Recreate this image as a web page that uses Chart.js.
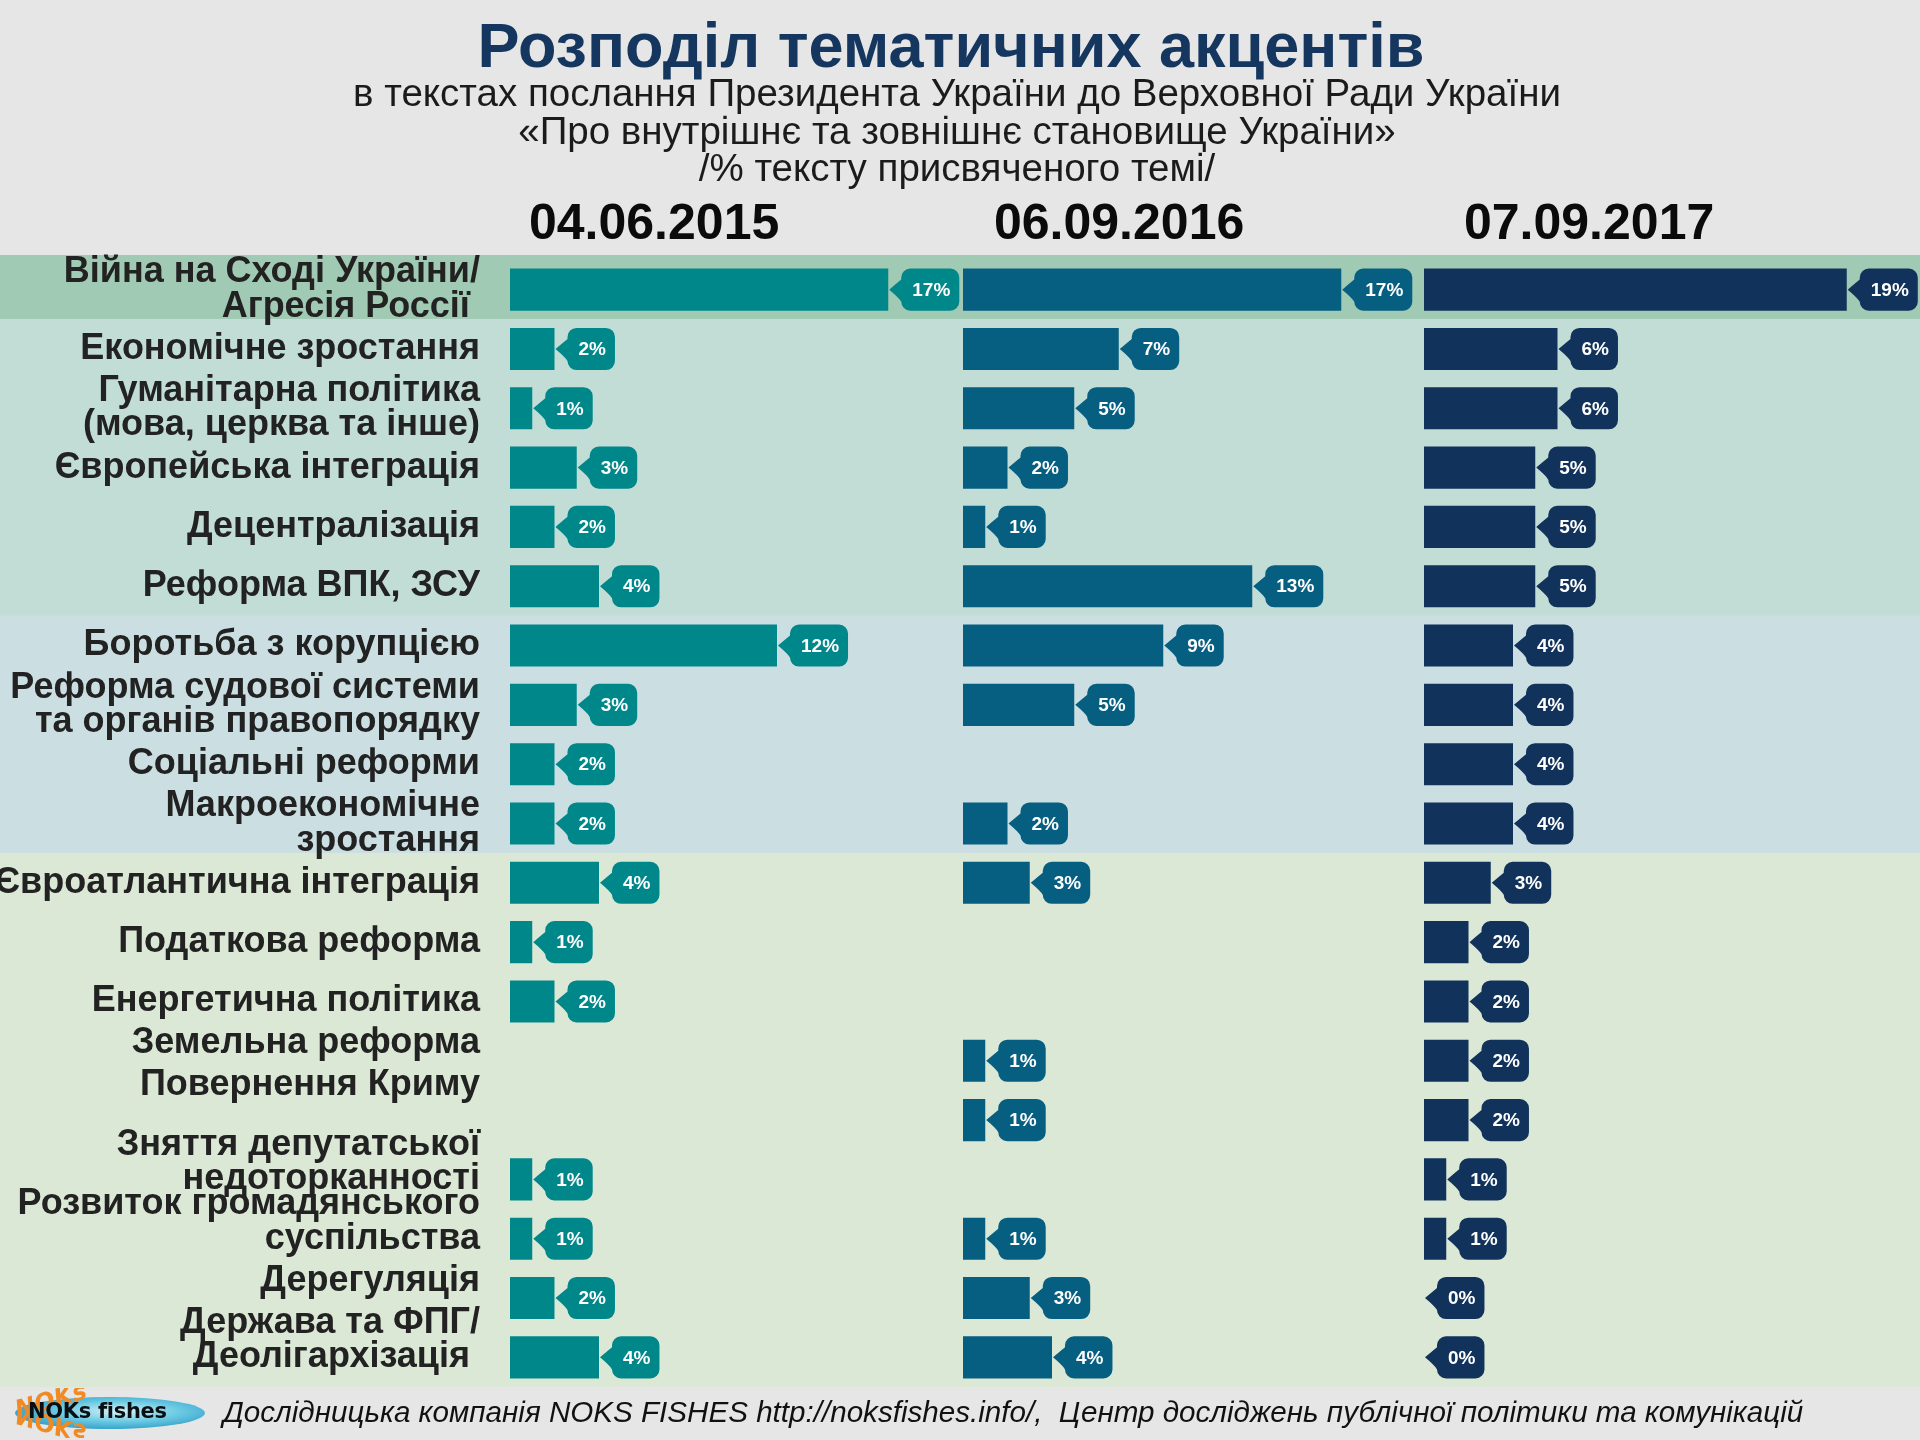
<!DOCTYPE html>
<html lang="uk">
<head>
<meta charset="utf-8">
<script src="https://cdn.jsdelivr.net/npm/chart.js@4.4.1/dist/chart.umd.min.js"></script>
<style>
html,body{margin:0;padding:0;background:#e6e6e6;}
#wrap{position:relative;width:1920px;height:1440px;overflow:hidden;}
#c{position:absolute;left:0;top:0;}
.t{position:absolute;width:1920px;text-align:center;font-family:'Liberation Sans',Arial,sans-serif;white-space:nowrap;}
#title{left:-9px;top:12px;font-size:63px;font-weight:bold;color:#15365f;line-height:66px;}
#sub{left:-3px;top:74px;font-size:38.5px;line-height:37.5px;color:#1b1b1b;}
#footer{position:absolute;left:223px;top:1394px;font-family:'Liberation Sans',Arial,sans-serif;font-style:italic;font-size:29.6px;line-height:36px;color:#111;white-space:pre;}
#logo{position:absolute;left:0;top:1388px;width:210px;height:50px;overflow:hidden;}
#logo .ell{position:absolute;left:15px;top:9px;width:190px;height:32px;border-radius:50%;
  background:radial-gradient(ellipse at 55% 45%,#d6f1f7 0%,#6ccbe3 40%,#2a98c6 80%,#1a7fb0 100%);}
#logo .o1,#logo .o2{position:absolute;left:14px;font:italic bold 24px 'DejaVu Sans','Liberation Sans',sans-serif;color:#f08a24;}
#logo .o1{top:-2px;transform:rotate(-16deg);}
#logo .o2{top:22px;transform:scaleY(-1) rotate(-16deg);}
#logo .name{position:absolute;left:28px;top:11px;font:bold 21px 'DejaVu Sans','Liberation Sans',sans-serif;color:#0a0f14;letter-spacing:-0.3px;}
</style>
</head>
<body>
<div id="wrap">
  <canvas id="c" width="1920" height="1440"></canvas>
  <div class="t" id="title">Розподіл тематичних акцентів</div>
  <div class="t" id="sub">в текстах послання Президента України до Верховної Ради України<br>«Про внутрішнє та зовнішнє становище України»<br>/% тексту присвяченого темі/</div>
  <div id="logo"><div class="ell"></div><div class="o1">NOKs</div><div class="o2">NOKs</div><div class="name">NOKs fishes</div></div>
  <div id="footer">Дослідницька компанія NOKS FISHES http://noksfishes.info/,  Центр досліджень публічної політики та комунікацій</div>
</div>
<script>
// ---- data ----
const categories = [
  ["Війна на Сході України/", "Агресія Россії "],
  "Економічне зростання",
  ["Гуманітарна політика", "(мова, церква та інше)"],
  "Європейська інтеграція",
  "Децентралізація",
  "Реформа ВПК, ЗСУ",
  "Боротьба з корупцією",
  ["Реформа судової системи", "та органів правопорядку"],
  "Соціальні реформи",
  ["Макроекономічне", "зростання"],
  "Євроатлантична інтеграція",
  "Податкова реформа",
  "Енергетична політика",
  ["Земельна реформа", ""],
  ["Повернення Криму", "", ""],
  ["Зняття депутатської", "недоторканності", ""],
  ["Розвиток громадянського", "суспільства", ""],
  ["Дерегуляція", ""],
  ["Держава та ФПГ/", "Деолігархізація ", ""]
];
const dates = ["04.06.2015", "06.09.2016", "07.09.2017"];
const values2015 = [17, 2, 1, 3, 2, 4, 12, 3, 2, 2, 4, 1, 2, null, null, 1, 1, 2, 4];
const values2016 = [17, 7, 5, 2, 1, 13, 9, 5, null, 2, 3, null, null, 1, 1, null, 1, 3, 4];
const values2017 = [19, 6, 6, 5, 5, 5, 4, 4, 4, 4, 3, 2, 2, 2, 2, 1, 1, 0, 0];
const groupRanges = [[0, 0], [1, 5], [6, 9], [10, 18]];

// ---- styles ----
const barColors = ['#00878a', '#065e80', '#11335b'];
const bandColors = ['#a0cab3', '#c2ddd5', '#cbdfe2', '#dce8d6'];
const panelWidths = [453, 461, 457];   // pixel widths of the three panels
const PX_PER_PCT = 22.25;              // common scale for all panels
const headerOffsets = [19, 31, 40];    // date header shift from panel start
const FONT = "'Liberation Sans', Arial, sans-serif";

const bandsPlugin = {
  id: 'bands',
  beforeDraw(chart) {
    const {ctx, width, height} = chart;
    const y = chart.scales.y;
    ctx.save();
    ctx.fillStyle = '#e6e6e6';
    ctx.fillRect(0, 0, width, height);
    const half = Math.abs(y.getPixelForValue(1) - y.getPixelForValue(0)) / 2;
    groupRanges.forEach(([a, b], gi) => {
      const top = y.getPixelForValue(a) - half - (gi === 0 ? 5 : 0);
      const bot = y.getPixelForValue(b) + half;
      ctx.fillStyle = bandColors[gi];
      ctx.fillRect(0, top, width, bot - top);
    });
    ctx.restore();
  }
};

const headerPlugin = {
  id: 'headers',
  afterDraw(chart) {
    const ctx = chart.ctx;
    ctx.save();
    ctx.font = 'bold 50px ' + FONT;
    ctx.fillStyle = '#0b0b0b';
    ctx.textAlign = 'left';
    ctx.textBaseline = 'middle';
    ['x0', 'x1', 'x2'].forEach((id, i) => {
      const s = chart.scales[id];
      ctx.fillText(dates[i], s.left + headerOffsets[i], s.top + 37);
    });
    ctx.restore();
  }
};

const calloutPlugin = {
  id: 'callouts',
  afterDatasetsDraw(chart) {
    const ctx = chart.ctx;
    ctx.save();
    ctx.font = 'bold 19px ' + FONT;
    chart.data.datasets.forEach((ds, di) => {
      const meta = chart.getDatasetMeta(di);
      meta.data.forEach((bar, i) => {
        const v = ds.data[i];
        if (v === null || v === undefined) return;
        const p = bar.getProps(['x', 'y', 'height'], true);
        const text = v + '%';
        const tw = ctx.measureText(text).width;
        const h = p.height, cy = p.y;
        const tip = p.x + 1;
        const L = tip + 12, R = L + tw + 20, T = cy - h / 2, B = cy + h / 2, r = 9;
        ctx.beginPath();
        ctx.moveTo(tip, cy);
        ctx.quadraticCurveTo(L - 2, cy - h * 0.2, L, T + r + 2);
        ctx.arcTo(L, T, L + r, T, r);
        ctx.lineTo(R - r, T);
        ctx.arcTo(R, T, R, T + r, r);
        ctx.lineTo(R, B - r);
        ctx.arcTo(R, B, R - r, B, r);
        ctx.lineTo(L + r, B);
        ctx.arcTo(L, B, L, B - r - 2, r);
        ctx.quadraticCurveTo(L - 2, cy + h * 0.2, tip, cy);
        ctx.closePath();
        ctx.fillStyle = ds.backgroundColor;
        ctx.fill();
        ctx.fillStyle = '#ffffff';
        ctx.textAlign = 'center';
        ctx.textBaseline = 'middle';
        ctx.fillText(text, (L + R) / 2 + 1, cy + 1);
      });
    });
    ctx.restore();
  }
};

function panelScale(i) {
  return {
    type: 'linear',
    position: 'top',
    stack: 'panels',
    stackWeight: panelWidths[i],
    min: 0,
    max: panelWidths[i] / PX_PER_PCT,
    grid: {display: false, drawTicks: false},
    border: {display: false},
    ticks: {display: false},
    title: {display: false},
    afterFit(s) { s.height = 72; }
  };
}

new Chart(document.getElementById('c'), {
  type: 'bar',
  data: {
    labels: categories,
    datasets: [
      {label: dates[0], data: values2015, xAxisID: 'x0', backgroundColor: barColors[0]},
      {label: dates[1], data: values2016, xAxisID: 'x1', backgroundColor: barColors[1]},
      {label: dates[2], data: values2017, xAxisID: 'x2', backgroundColor: barColors[2]}
    ]
  },
  options: {
    indexAxis: 'y',
    responsive: false,
    animation: false,
    devicePixelRatio: 1,
    layout: {padding: {left: 0, right: 39, top: 188, bottom: 53}},
    datasets: {bar: {grouped: false, categoryPercentage: 1, barPercentage: 0.71, borderWidth: 0}},
    plugins: {legend: {display: false}, tooltip: {enabled: false}},
    scales: {
      y: {
        position: 'left',
        grid: {display: false, drawTicks: false},
        border: {display: false},
        ticks: {autoSkip: false, padding: 30, color: '#222222', font: {family: FONT, weight: 'bold', size: 36, lineHeight: 0.96}},
        afterFit(s) { s.width = 510; s.paddingTop = 0; s.paddingBottom = 0; }
      },
      // top-stacked axes are laid out in reverse definition order
      x2: panelScale(2),
      x1: panelScale(1),
      x0: panelScale(0)
    }
  },
  plugins: [bandsPlugin, calloutPlugin, headerPlugin]
});
</script>
</body>
</html>
